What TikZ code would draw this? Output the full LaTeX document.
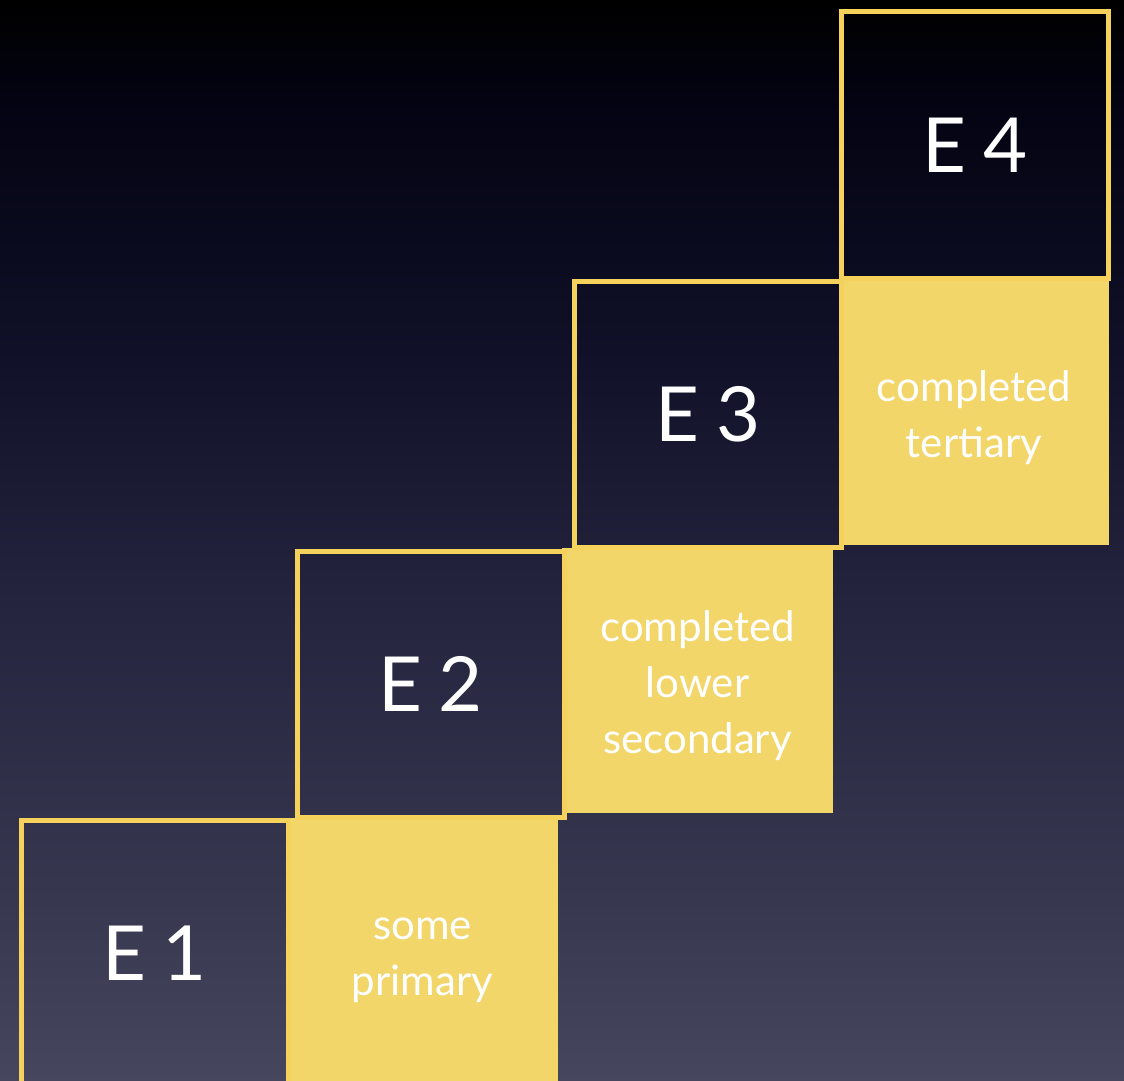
\documentclass[tikz,border=0pt]{standalone}
\usepackage{fontspec}
\setmainfont{Lato}
\definecolor{bg0}{RGB}{70,70,94}
\definecolor{bg1}{RGB}{55,55,80}
\definecolor{bg2}{RGB}{36,36,62}
\definecolor{bg3}{RGB}{16,16,40}
\definecolor{bg4}{RGB}{3,3,18}
\definecolor{bg5}{RGB}{0,0,0}
\definecolor{boxyellow}{RGB}{242,214,106}
\definecolor{lineyellow}{RGB}{244,210,92}
\pgfdeclareverticalshading{bgshade}{100bp}{color(0bp)=(bg0); color(25bp)=(bg0); color(33.4bp)=(bg1); color(47.2bp)=(bg2); color(58.8bp)=(bg3); color(70.4bp)=(bg4); color(75bp)=(bg5); color(100bp)=(bg5)}
\tikzset{
  levelbox/.style={draw=lineyellow, line width=5pt, minimum width=267pt, minimum height=266pt, inner sep=0pt,
    text=white, font=\fontsize{76}{80}\selectfont},
  fillbox/.style={fill=boxyellow, minimum width=271pt, minimum height=265pt, inner sep=0pt,
    text=white, align=center, font=\fontsize{42}{56}\selectfont},
}
\begin{document}
\begin{tikzpicture}[x=1pt,y=-1pt]
\useasboundingbox (0,0) rectangle (1124,1081);
\shade[shading=bgshade] (0,0) rectangle (1124,1081);
\clip (0,0) rectangle (1124,1081);
% yellow fills
\node[fillbox] (f1) at (422.5,950) {\rule{0pt}{43pt}some\\primary};
\node[fillbox] (f2) at (697.5,680) {\rule{0pt}{42pt}completed\\lower\\secondary};
\node[fillbox, minimum width=270pt, minimum height=264pt] (f3) at (974,413) {\rule{0pt}{40pt}completed\\tertiary};
% level boxes
\node[levelbox] (e1) at (154.5,953.5) {E\hspace{0.22em}1};
\node[levelbox] (e2) at (430.5,684) {E\hspace{0.22em}2};
\node[levelbox] (e3) at (707.75,414.6) {E\hspace{0.22em}3};
\node[levelbox] (e4) at (974.75,145) {E\hspace{0.22em}4};
\end{tikzpicture}
\end{document}
